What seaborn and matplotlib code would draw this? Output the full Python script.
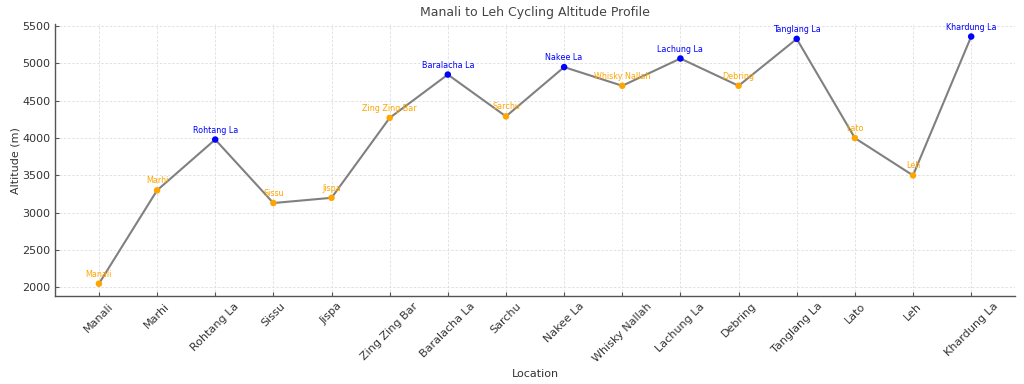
import pandas as pd
import matplotlib.pyplot as plt
import seaborn as sns

locations = ['Manali', 'Marhi', 'Rohtang La', 'Sissu', 'Jispa', 'Zing Zing Bar',
             'Baralacha La', 'Sarchu', 'Nakee La', 'Whisky Nallah', 'Lachung La',
             'Debring', 'Tanglang La', 'Lato', 'Leh', 'Khardung La']
altitudes = [2050, 3300, 3980, 3130, 3200, 4270, 4850, 4290, 4950, 4700,
             5065, 4700, 5328, 4000, 3500, 5359]
point_types = ['Pass' if name.endswith(' La') else 'Stop' for name in locations]

df = pd.DataFrame({'location': locations, 'altitude': altitudes, 'type': point_types})
df['idx'] = range(len(df))

sns.set_style("whitegrid", {
    'grid.linestyle': (0, (3, 2)),
    'grid.color': '#dddddd',
    'axes.edgecolor': '#555555',
    'axes.spines.top': False,
    'axes.spines.right': False,
    'xtick.bottom': True,
    'ytick.left': True,
    'xtick.direction': 'in',
    'ytick.direction': 'in',
    'text.color': '#333333',
    'axes.labelcolor': '#333333',
    'xtick.color': '#555555',
    'ytick.color': '#555555',
})
plt.rcParams['font.family'] = ['DejaVu Sans']

fig, ax = plt.subplots(figsize=(10.24, 3.84), dpi=100)

sns.lineplot(data=df, x='idx', y='altitude', color='grey', linewidth=1.5, ax=ax, zorder=2)
palette = {'Pass': 'blue', 'Stop': 'orange'}
sns.scatterplot(data=df, x='idx', y='altitude', hue='type', palette=palette,
                s=22, edgecolor='none', legend=False, ax=ax, zorder=3)

# labels above each stop
for i, row in df.iterrows():
    ax.annotate(row['location'], (row['idx'], row['altitude']),
                textcoords='offset points', xytext=(0, 5), ha='center',
                fontsize=5.8, color=palette[row['type']])

ax.set_xticks(df['idx'])
ax.set_xticklabels(locations, rotation=45, ha='center', fontsize=8)
ax.tick_params(axis='y', labelsize=8)
ax.tick_params(length=3, width=0.8, labelcolor='#333333')
ax.grid(linewidth=0.6)
for s in ['left', 'bottom']:
    ax.spines[s].set_linewidth(1.0)
ax.set_title('Manali to Leh Cycling Altitude Profile', fontsize=9, color='#444444')
ax.set_xlabel('Location', fontsize=8)
ax.set_ylabel('Altitude (m)', fontsize=8, labelpad=1.5)
ax.set_yticks(range(2000, 5501, 500))

fig.subplots_adjust(left=0.054, right=0.991, top=0.937, bottom=0.229)
fig.savefig('out.png')
